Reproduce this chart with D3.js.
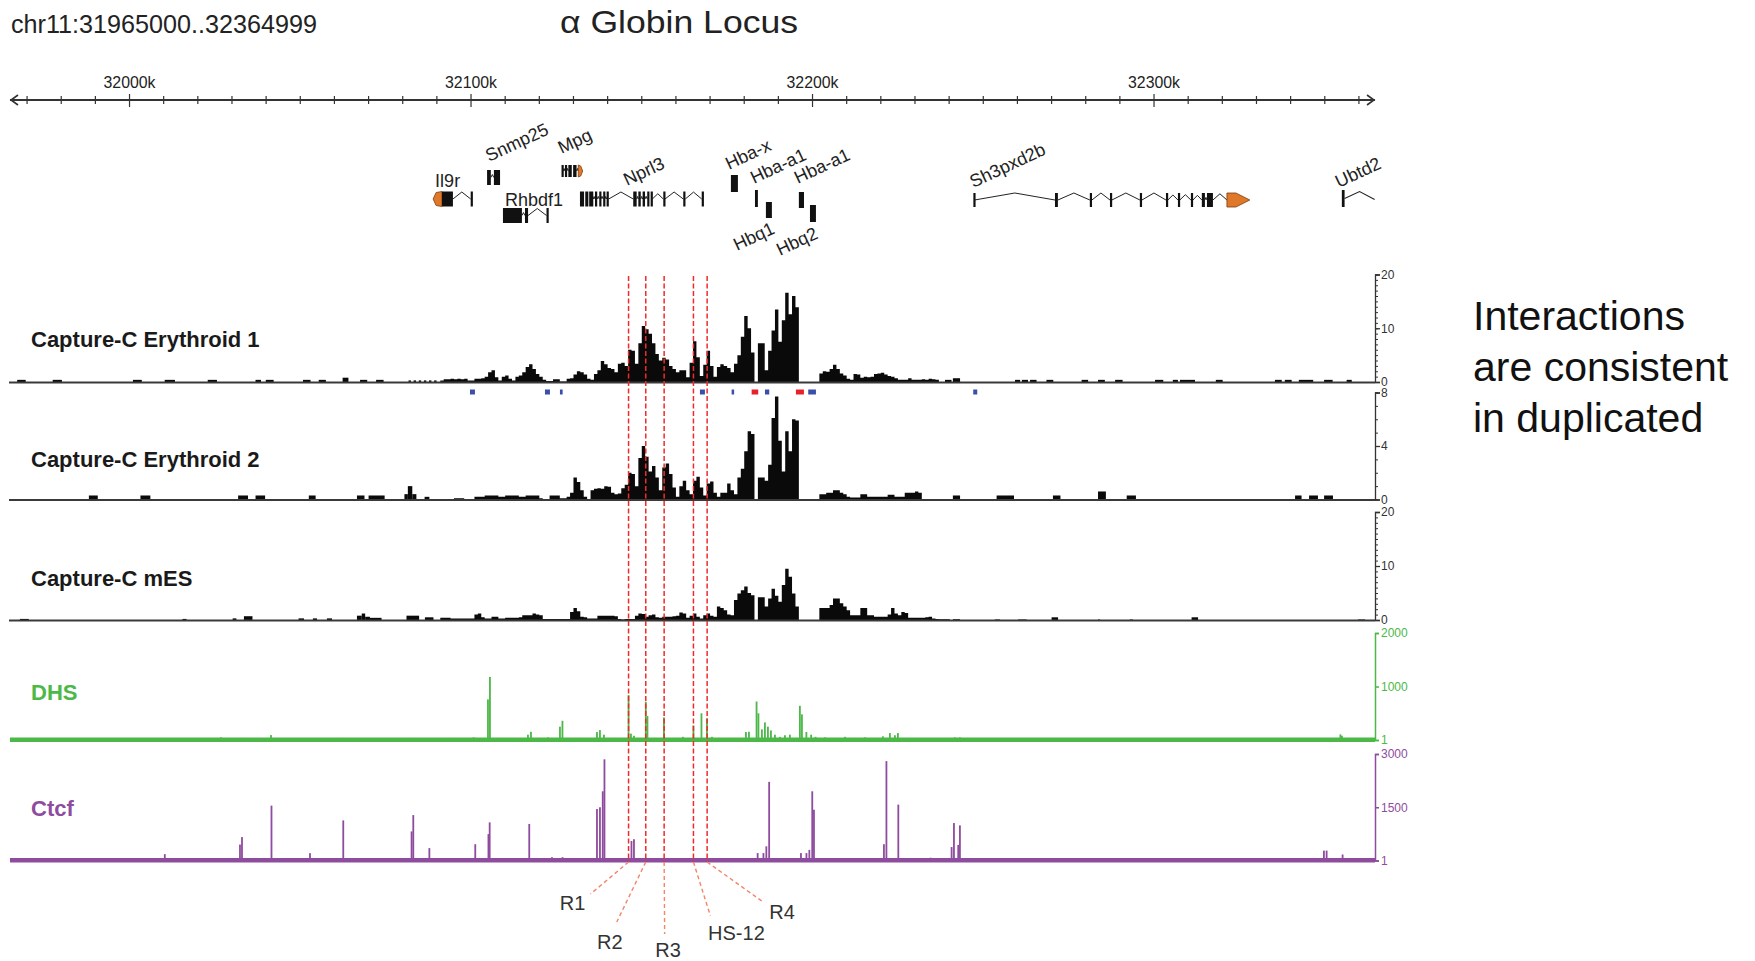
<!DOCTYPE html>
<html><head><meta charset="utf-8">
<script src="https://cdn.jsdelivr.net/npm/d3@7"></script>
<style>
html,body{margin:0;padding:0;background:#fff;}
svg{display:block;font-family:"Liberation Sans",Arial,Helvetica,sans-serif;}
</style></head><body>
<svg id="chart" width="1755" height="961"></svg>
<script>
// ---------------- DATA ----------------
const chromLabel = "chr11:31965000..32364999";
const titleText = "\u03B1 Globin Locus";
const region = [31965000, 32365000];
const axisMajor = [32000000, 32100000, 32200000, 32300000];
const axisMajorLabels = ["32000k", "32100k", "32200k", "32300k"];

// Capture-C signal in 1 kb bins over the active window
const binStart = 32091000;
const binSize = 1000;
const e1Bins = [0.3,0.5,0.5,0.6,0.5,0.6,0.5,0.6,0.3,0.3,
 0.6,0.6,0.7,1.0,1.8,2.2,0.9,0.3,1.0,1.2,
 0.6,0.3,1.0,1.2,1.8,2.8,3.3,2.4,1.5,1.0,
 0.4,0.2,0.2,0.5,0.5,0.1,0.1,0.6,0.7,1.4,
 2.0,1.8,1.4,0.6,0.4,1.5,2.2,3.9,3.3,2.6,
 2.4,1.8,3.4,3.6,3.0,6.0,5.8,3.4,7.2,10.4,
 9.8,9.0,7.2,5.2,4.0,4.5,4.2,3.0,2.4,1.8,
 2.2,2.2,0.9,3.6,7.6,4.6,1.1,3.2,5.8,3.0,
 1.0,2.8,3.3,3.0,2.6,1.8,3.4,5.0,8.4,12.3,
 10.0,5.5,0,7.2,7.2,2.2,5.8,9.6,13.5,7.5,
 11.5,16.6,12.6,16.0,13.9,0,0,0,0,0,
 0,1.6,2.0,1.9,2.4,3.2,2.4,1.6,1.2,0.6,
 0.4,1.5,1.4,0.8,1.0,0.9,1.0,1.5,1.6,1.7,
 1.4,1.1,1.0,0.7,0.4,0.4,0.4,0.7,0.4,0.4,
 0.4,0.5,0.4,0.6,0.5,0.4];
const e2Bins = [0,0,0,0,0.1,0.1,0.1,0,0,0,
 0.2,0.2,0.2,0.3,0.3,0.3,0.3,0.2,0.2,0.3,
 0.3,0.3,0.3,0.2,0.2,0.3,0.3,0.3,0.3,0.1,
 0,0,0.3,0.3,0.3,0.1,0.1,0.2,0.5,1.65,
 1.3,0.7,0.2,0,0.7,0.8,0.85,0.8,1.0,0.95,
 0.5,0.4,0.45,0.85,1.1,2.0,1.9,1.0,3.1,4.0,
 3.2,2.1,2.5,1.65,0.7,2.4,2.7,1.9,0.9,0.2,
 1.0,1.4,0.7,0.4,1.4,1.7,0.9,0.3,1.2,1.35,
 0.5,0.2,0.5,0.5,1.2,0.7,0.4,1.65,2.3,3.6,
 5.1,4.9,0,1.65,1.65,1.4,2.6,6.1,7.7,4.4,
 2.1,5.1,3.6,6.0,5.9,0,0,0,0,0,
 0,0.4,0.4,0.5,0.5,0.7,0.7,0.5,0.4,0.2,
 0.15,0.15,0.15,0.4,0.4,0.2,0.2,0.2,0.2,0.2,
 0.2,0.35,0.35,0.2,0.2,0.2,0.5,0.5,0.5,0.6,
 0.5,0,0,0,0,0];
const mesBins = [0.4,0.4,0.4,0.3,0.3,0.3,0.3,0.3,0.3,0.3,
 1.0,1.2,0.5,0.3,0.3,0.6,0.6,0.3,0.3,0.4,
 0.4,0.4,0.4,0.5,0.9,0.9,0.9,1.2,1.0,0.9,
 0.2,0.2,0.2,0.2,0.2,0.2,0.2,0.2,1.5,2.2,
 1.6,0.6,0.5,0.3,0.3,0.3,0.8,0.8,0.8,0.8,
 0.8,0.7,0.2,0.1,0.2,0.2,0.2,0.8,1.2,1.1,
 0.6,0.9,1.0,0.5,0.4,0.6,0.6,0.6,0.7,0.8,
 1.4,1.2,0.4,0.8,1.2,0.6,0.3,0.9,1.2,0.8,
 0.6,2.5,2.2,1.8,1.0,0.9,3.7,4.9,5.5,6.2,
 5.0,4.6,0,4.2,4.2,2.5,4.0,5.8,4.5,3.4,
 6.5,9.5,8.0,4.9,2.5,0,0,0,0,0,
 0,2.2,2.2,2.2,2.8,4.0,4.0,3.1,2.5,1.8,
 0.9,0.9,0.9,2.2,2.2,0.9,0.9,0.6,0.6,0.6,
 0.6,1.0,2.2,1.2,0.9,1.5,1.3,0.4,0.4,0.4,
 0.4,0.4,0.5,0.6,0.3,0.2];

// low-level background blocks [start, end, value]
const e1Blocks = [
 [31967100,31969600,0.4],[31977500,31980200,0.4],[32001000,32003600,0.4],[32010300,32013300,0.4],
 [32022900,32025600,0.4],[32036900,32038500,0.4],[32039900,32042200,0.4],[32050800,32053000,0.4],
 [32055400,32057500,0.4],[32062400,32064100,0.8],[32067500,32069600,0.4],[32072200,32074400,0.4],
 [32081700,32082400,0.3],[32083200,32083900,0.3],[32084700,32085400,0.3],[32086200,32086900,0.3],
 [32087700,32088400,0.3],[32089200,32089900,0.3],
 [32238800,32240700,0.4],[32241100,32243200,0.7],[32259300,32260800,0.4],[32261300,32263100,0.4],
 [32263700,32265600,0.4],[32268500,32270500,0.4],[32278800,32280700,0.4],[32283600,32285600,0.4],
 [32288600,32290800,0.4],[32300300,32302700,0.4],[32305500,32307000,0.4],[32307600,32312000,0.4],
 [32318100,32320100,0.4],[32335400,32337400,0.4],[32338300,32340300,0.4],[32342400,32346600,0.4],
 [32349800,32352300,0.4],[32356400,32357900,0.4]];
const e2Blocks = [
 [31988100,31990700,0.3],[32003200,32006100,0.3],[32031800,32034700,0.3],[32036900,32039700,0.3],
 [32052500,32054500,0.3],[32066600,32068800,0.3],[32070000,32074700,0.3],
 [32080500,32081500,0.4],[32081500,32082800,1.0],[32082800,32084000,0.4],[32086400,32087800,0.2],
 [32241100,32243200,0.3],[32253900,32259000,0.3],[32270400,32272600,0.3],[32283600,32285900,0.6],
 [32292000,32294700,0.3],[32341300,32343200,0.3],[32345400,32348000,0.3],[32349800,32352400,0.3]];
const mesBlocks = [
 [31967900,31970500,0.2],[32015500,32016700,0.2],[32030200,32031300,0.3],[32033500,32036000,0.7],
 [32049500,32051100,0.3],[32053700,32054900,0.3],[32057800,32059300,0.3],
 [32066600,32068000,0.8],[32068000,32069000,1.2],[32069000,32070400,0.6],[32070400,32073800,0.4],
 [32081100,32084800,0.8],[32086500,32089000,0.5],
 [32237000,32240200,0.15],[32241100,32243200,0.15],[32253400,32254900,0.1],[32260200,32262700,0.1],
 [32270000,32271900,0.5],[32283600,32284200,0.1],[32292900,32293800,0.1],[32311000,32312900,0.5],
 [32359700,32361800,0.1]];

// DHS peaks [position, signal]
const dhsPeaks = [
 [32026780,50],[32032930,40],[32041420,93],[32062590,40],[32083090,40],[32094860,40],[32100740,50],
 [32104960,760],[32105540,1180],[32108180,40],[32112000,30],[32115000,35],[32116670,100],[32117550,155],
 [32120180,40],[32122530,50],[32126040,250],[32126770,360],[32128970,40],[32131900,40],
 [32136880,150],[32137750,187],[32138930,100],[32142140,40],[32146130,840],[32146830,120],[32147710,80],
 [32151170,716],[32151660,450],[32153860,40],[32156490,423],[32159710,40],[32162060,60],
 [32165130,274],[32167480,500],[32169090,404],[32170550,60],[32172890,40],[32175820,40],
 [32180500,150],[32181380,155],[32183610,720],[32184160,500],[32185180,200],[32186060,330],
 [32186940,250],[32187820,180],[32188990,100],[32190450,60],[32191920,90],[32193380,100],
 [32196300,640],[32196900,480],[32198200,150],[32199600,100],[32200900,60],
 [32203630,50],[32206560,40],[32209490,60],[32212420,40],[32215340,50],[32218270,40],
 [32220610,70],[32222660,130],[32224130,90],[32225000,130],[32241700,50],[32243160,50],
 [32354580,106],[32355020,80]];

// CTCF peaks [position, signal]
const ctcfPeaks = [
 [32010330,180],[32032340,450],[32032930,660],[32041570,1546],[32052840,207],[32062590,1130],
 [32082590,820],[32083090,1280],[32087800,350],[32101240,460],[32105100,745],[32105460,1075],
 [32117050,1030],[32123700,95],[32126800,95],[32136880,1450],[32137750,1500],[32138570,1950],
 [32139070,2850],[32146980,550],[32147710,600],[32183930,210],[32185630,210],[32186480,400],
 [32187300,2216],[32196610,210],[32198220,210],[32199070,300],[32199920,1950],[32200420,1430],
 [32220910,460],[32221640,2800],[32225120,1575],[32234570,80],[32240730,380],[32241410,1056],
 [32242670,440],[32243160,990],[32349750,280],[32350540,280],[32355220,170]];

// interaction fragments between tracks [start, end, type]
const fragments = [
 [32099690,32101150,"blue"],[32121650,32123110,"blue"],[32126040,32126830,"blue"],
 [32167030,32168490,"blue"],[32176310,32176990,"blue"],[32182170,32184100,"red"],
 [32186070,32187330,"blue"],[32195140,32197480,"red"],[32198740,32201000,"blue"],
 [32247060,32248230,"blue"]];

// highlighted elements
const elementNames = ["R1", "R2", "R3", "HS-12", "R4"];
const elementPos = [32146130, 32151170, 32156550, 32165130, 32169140];

// gene models
const genes = [
 {name:"Il9r", exons:[[32091500,32094700],[32099900,32100500]], utr:[32088900,32091500], dir:-1},
 {name:"Snmp25", exons:[[32104700,32105800],[32106700,32108500]]},
 {name:"Rhbdf1", exons:[[32109350,32114900],[32115800,32116700],[32122100,32122700]]},
 {name:"Mpg", exons:[[32126500,32127000],[32127500,32128000],[32128500,32129500],[32129900,32130900]], utr:[32131400,32132700], dir:1},
 {name:"Nprl3", exons:[[32131900,32133100],[32133450,32134350],[32134600,32135800],[32136300,32136950],[32137550,32138050],[32138700,32139200],[32139700,32140300],[32147500,32148500],[32149000,32149700],[32150250,32150950],[32151600,32152200],[32152600,32153100],[32156300,32156800],[32162150,32162750],[32167550,32168000]]},
 {name:"Hba-x", exons:[[32176100,32178150]]},
 {name:"Hba-a1", exons:[[32183150,32184000]]},
 {name:"Hbq1", exons:[[32186350,32188100]]},
 {name:"Hba-a1", exons:[[32196000,32197500]]},
 {name:"Hbq2", exons:[[32199250,32201000]]},
 {name:"Sh3pxd2b", exons:[[32247100,32247450],[32271000,32271850],[32281200,32281800],[32287100,32287650],[32295850,32296450],[32303500,32304050],[32307000,32307550],[32310800,32311400],[32314000,32314900],[32315500,32317250]], utr:[32321350,32328050], dir:1},
 {name:"Ubtd2", exons:[[32355000,32355800]], tail:32364600}];

const noteLines = ["Interactions", "are consistent", "in duplicated"];

// ---------------- LAYOUT / STYLE ----------------
const geneLayout = [
 {y:199, h:7.5, lx:2, ly:187, rot:0},
 {y:177.5, h:7.5, lx:2, ly:162, rot:-25},
 {y:215.5, h:7.5, lx:2, ly:206, rot:0},
 {y:171, h:6, lx:0, ly:154, rot:-25},
 {y:199, h:7.5, lx:47, ly:186, rot:-25},
 {y:183.5, h:8.5, lx:-2, ly:170, rot:-25},
 {y:198.5, h:8.5, lx:-1, ly:184, rot:-25},
 {y:210, h:8, lx:-29, ly:251, rot:-25},
 {y:200, h:8, lx:-1, ly:184, rot:-25},
 {y:213.5, h:8.5, lx:-30, ly:256, rot:-25},
 {y:200, h:7, lx:0, ly:188, rot:-25},
 {y:198.5, h:8.5, lx:-3, ly:188, rot:-25}];

const GREEN = "#4cb848", PURPLE = "#8e4c9e", ORANGE = "#e0782a";
const FONT = "'Liberation Sans', Arial, sans-serif";

const svg = d3.select("#chart");
const x = d3.scaleLinear().domain(region).range([10, 1376]);
const AXX = 1375;

// titles
svg.append("text").attr("x", 11).attr("y", 33).attr("font-size", 26).attr("fill", "#222")
  .attr("textLength", 306).attr("lengthAdjust", "spacingAndGlyphs").text(chromLabel);
svg.append("text").attr("x", 560).attr("y", 33).attr("font-size", 31).attr("fill", "#222")
  .attr("textLength", 238).attr("lengthAdjust", "spacingAndGlyphs").text(titleText);

// top genomic axis
const ax = svg.append("g").attr("transform", "translate(0,100)");
ax.append("line").attr("x1", x(region[0])).attr("x2", x(region[1]) - 1).attr("stroke", "#333").attr("stroke-width", 2);
ax.append("path").attr("d", `M${x(region[0]) + 8},-5 L${x(region[0]) + 1},0 L${x(region[0]) + 8},5`).attr("fill", "none").attr("stroke", "#333").attr("stroke-width", 1.6);
ax.append("path").attr("d", `M${x(region[1]) - 9},-5 L${x(region[1]) - 2},0 L${x(region[1]) - 9},5`).attr("fill", "none").attr("stroke", "#333").attr("stroke-width", 1.6);
const minorTicks = d3.range(31970000, 32365000, 10000);
ax.selectAll("line.mt").data(minorTicks).join("line").attr("class", "mt")
  .attr("x1", d => x(d)).attr("x2", d => x(d))
  .attr("y1", d => axisMajor.includes(d) ? -6 : -4).attr("y2", d => axisMajor.includes(d) ? 7 : 4)
  .attr("stroke", "#333").attr("stroke-width", 1.2);
ax.selectAll("text.ml").data(axisMajor).join("text").attr("class", "ml")
  .attr("x", d => x(d)).attr("y", -12).attr("text-anchor", "middle")
  .attr("font-size", 16).attr("fill", "#222")
  .attr("textLength", 52).attr("lengthAdjust", "spacingAndGlyphs")
  .text((d, i) => axisMajorLabels[i]);

// genes
const gg = svg.append("g");
genes.forEach((g, gi) => {
  const L = geneLayout[gi];
  const parts = g.exons.map(e => ({s: e[0], e: e[1], utr: false}));
  if (g.utr) parts.push({s: g.utr[0], e: g.utr[1], utr: true});
  parts.sort((a, b) => a.s - b.s);
  for (let i = 1; i < parts.length; i++) {
    const x1 = x(parts[i - 1].e), x2 = x(parts[i].s);
    if (x2 - x1 > 1.5) {
      const lift = Math.min(7, 2 + (x2 - x1) * 0.3);
      gg.append("polyline").attr("points", `${x1},${L.y} ${(x1 + x2) / 2},${L.y - lift} ${x2},${L.y}`)
        .attr("fill", "none").attr("stroke", "#222").attr("stroke-width", 1);
    }
  }
  if (g.tail) {
    const x1 = x(parts[parts.length - 1].e), x2 = x(g.tail);
    gg.append("polyline").attr("points", `${x1},${L.y} ${x1 + 15},${L.y - 7} ${x2},${L.y + 1}`)
      .attr("fill", "none").attr("stroke", "#222").attr("stroke-width", 1.1);
  }
  parts.forEach(p => {
    const xs = x(p.s), xe = x(p.e), w = Math.max(2.2, xe - xs);
    if (!p.utr) {
      gg.append("rect").attr("x", xs).attr("y", L.y - L.h).attr("width", w).attr("height", 2 * L.h).attr("fill", "#111");
    } else {
      let pts;
      if (g.dir < 0) {
        pts = [[xs, L.y], [xs + 3, L.y - L.h + 1], [xe, L.y - L.h], [xe, L.y + L.h], [xs + 3, L.y + L.h - 1]];
      } else if (g.name === "Mpg") {
        pts = [[xs, L.y - L.h], [xe - 2, L.y - L.h + 1], [xe, L.y], [xe - 2, L.y + L.h - 1], [xs, L.y + L.h]];
      } else {
        pts = [[xs, L.y - L.h], [xs + 9, L.y - L.h], [xe, L.y], [xs + 9, L.y + L.h], [xs, L.y + L.h]];
      }
      gg.append("polygon").attr("points", pts.map(q => q.join(",")).join(" "))
        .attr("fill", ORANGE).attr("stroke", "#7a3d10").attr("stroke-width", 0.8);
    }
  });
  const gx = x(g.utr && g.dir < 0 ? g.utr[0] : g.exons[0][0]) + L.lx;
  gg.append("text").attr("transform", `translate(${gx},${L.ly}) rotate(${L.rot})`)
    .attr("font-size", 18).attr("fill", "#222").text(g.name);
});

// coverage tracks
const covTracks = [
  {label: "Capture-C Erythroid 1", bins: e1Bins, blocks: e1Blocks, max: 20, ticks: [0, 10, 20], top: 274.5, base: 382, ly: 347},
  {label: "Capture-C Erythroid 2", bins: e2Bins, blocks: e2Blocks, max: 8, ticks: [0, 4, 8], top: 392.5, base: 499.5, ly: 467},
  {label: "Capture-C mES", bins: mesBins, blocks: mesBlocks, max: 20, ticks: [0, 10, 20], top: 512, base: 620, ly: 586}];

covTracks.forEach(t => {
  const y = d3.scaleLinear().domain([0, t.max]).range([t.base, t.top]);
  const g = svg.append("g");
  const pts = t.bins.map((v, i) => ({s: binStart + i * binSize, v}));
  pts.push({s: binStart + t.bins.length * binSize, v: t.bins[t.bins.length - 1]});
  const area = d3.area().x(d => x(d.s)).y0(y(0)).y1(d => y(d.v)).curve(d3.curveStepAfter);
  g.append("path").attr("d", area(pts)).attr("fill", "#0a0a0a");
  g.selectAll("rect").data(t.blocks).join("rect")
    .attr("x", d => x(d[0])).attr("width", d => Math.max(1.2, x(d[1]) - x(d[0])))
    .attr("y", d => y(d[2])).attr("height", d => y(0) - y(d[2])).attr("fill", "#0a0a0a");
  g.append("line").attr("x1", 9).attr("x2", AXX).attr("y1", t.base + 0.5).attr("y2", t.base + 0.5)
    .attr("stroke", "#3a3a3a").attr("stroke-width", 2.2);
  const minor = svg.append("g").attr("transform", `translate(${AXX},0)`)
    .call(d3.axisRight(y).tickValues(d3.range(0, t.max + 1, 1)).tickSize(3).tickSizeOuter(0).tickFormat(""));
  minor.select(".domain").remove();
  minor.selectAll("line").attr("stroke", "#333");
  const major = svg.append("g").attr("transform", `translate(${AXX},0)`)
    .call(d3.axisRight(y).tickValues(t.ticks).tickSize(5).tickSizeOuter(5).tickPadding(1).tickFormat(d3.format("d")));
  major.selectAll("path,line").attr("stroke", "#333").attr("stroke-width", 1.3);
  major.selectAll("text").attr("font-size", 12).attr("fill", "#333").attr("font-family", FONT);
  svg.append("text").attr("x", 31).attr("y", t.ly).attr("font-size", 22).attr("font-weight", "bold")
    .attr("fill", "#1a1a1a").text(t.label);
});

// spike tracks
const spikeTracks = [
  {label: "DHS", peaks: dhsPeaks, max: 2000, ticks: [1, 1000, 2000], top: 633, base: 740, color: GREEN, ly: 700},
  {label: "Ctcf", peaks: ctcfPeaks, max: 3000, ticks: [1, 1500, 3000], top: 754, base: 860.5, color: PURPLE, ly: 816}];
spikeTracks.forEach(t => {
  const y = d3.scaleLinear().domain([1, t.max]).range([t.base, t.top]);
  const g = svg.append("g");
  g.selectAll("rect").data(t.peaks).join("rect")
    .attr("x", d => x(d[0]) - 0.9).attr("width", 1.8)
    .attr("y", d => y(d[1])).attr("height", d => y(1) - y(d[1]) + 1).attr("fill", t.color);
  g.append("rect").attr("x", 10).attr("width", AXX - 10).attr("y", t.base - 2.5).attr("height", 4.5).attr("fill", t.color);
  const major = svg.append("g").attr("transform", `translate(${AXX},0)`)
    .call(d3.axisRight(y).tickValues(t.ticks).tickSize(4).tickSizeOuter(4).tickPadding(2).tickFormat(d3.format("d")));
  major.selectAll("path,line").attr("stroke", t.color).attr("stroke-width", 1.5);
  major.selectAll("text").attr("font-size", 12).attr("fill", t.color).attr("font-family", FONT);
  svg.append("text").attr("x", 31).attr("y", t.ly).attr("font-size", 22).attr("font-weight", "bold")
    .attr("fill", t.color).text(t.label);
});

// interaction fragments
svg.append("g").selectAll("rect").data(fragments).join("rect")
  .attr("x", d => x(d[0])).attr("width", d => Math.max(2.5, x(d[1]) - x(d[0])))
  .attr("y", 389.5).attr("height", 5)
  .attr("fill", d => d[2] === "red" ? "#e8202a" : "#3b4fa8");

// red dashed element lines
svg.append("g").selectAll("line").data(elementPos).join("line")
  .attr("x1", d => x(d)).attr("x2", d => x(d)).attr("y1", 276).attr("y2", 862)
  .attr("stroke", "#f02a2a").attr("stroke-width", 1.5).attr("stroke-dasharray", "5,2.5");

// leader lines and element labels
const leader = [
  {dx: -38, dy: 32, tx: -56, ty: 48},
  {dx: -29, dy: 60, tx: -36, ty: 87},
  {dx: 0.5, dy: 72, tx: 4, ty: 95},
  {dx: 17, dy: 54, tx: 43, ty: 78},
  {dx: 56, dy: 40, tx: 75, ty: 57}];
elementPos.forEach((p, i) => {
  const x0 = x(p), y0 = 862, L = leader[i];
  svg.append("line").attr("x1", x0).attr("y1", y0).attr("x2", x0 + L.dx).attr("y2", y0 + L.dy)
    .attr("stroke", "#f4846a").attr("stroke-width", 1.4).attr("stroke-dasharray", "4,3");
  svg.append("text").attr("x", x0 + L.tx).attr("y", y0 + L.ty).attr("text-anchor", "middle")
    .attr("font-size", 20).attr("fill", "#333").text(elementNames[i]);
});

// note
svg.append("g").selectAll("text").data(noteLines).join("text")
  .attr("x", 1473).attr("y", (d, i) => 330 + i * 51)
  .attr("font-size", 41).attr("fill", "#111").text(d => d);
</script>
</body></html>
